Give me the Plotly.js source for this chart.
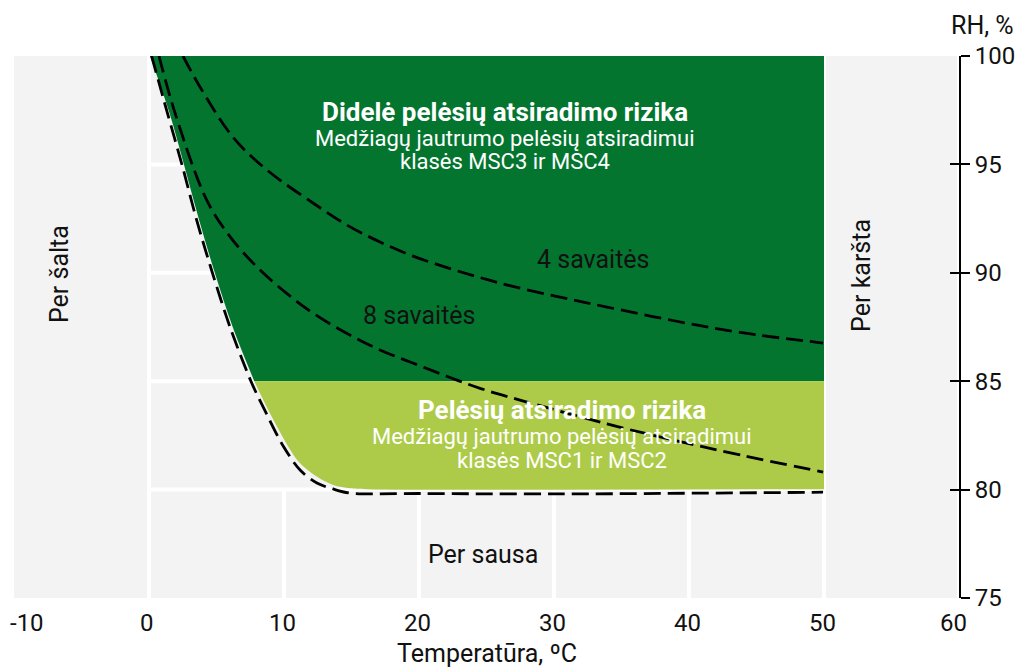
<!DOCTYPE html>
<html>
<head>
<meta charset="utf-8">
<script src="https://cdn.plot.ly/plotly-3.0.1.min.js"></script>
<style>
  html, body { margin: 0; padding: 0; background: #ffffff; }
  #chart { width: 1022px; height: 668px; }
</style>
</head>
<body>
<div id="chart"></div>
<script>
// ---- Data ----
const xTickVals = [-10, 0, 10, 20, 30, 40, 50, 60];
const xTickText = ['-10', '0', '10', '20', '30', '40', '50', '60'];
const yTickVals = [75, 80, 85, 90, 95, 100];

// background tile separators (white lines)
const gridT = [0, 10, 20, 30, 40, 50];
const gridRH = [80, 85, 90, 95];

// zone limits
const zoneRH = [80, 85, 100];   // risk lower, high-risk lower, top
const zoneTmax = 50;

// limit curve (lowest isopleth, dashed)
const limitT  = [0.19, 1.35, 2.45, 3.5, 4.7, 6.0, 7.55, 8.7, 9.95, 11.19, 12.44, 13.63, 14.89, 20.0, 30.44, 49.93];
const limitRH = [100, 97.4, 94.97, 92.5, 89.99, 87.5, 85.0, 83.5, 82.0, 80.9, 80.3, 80.03, 79.84, 79.82, 79.8, 79.88];

// 8 weeks isopleth
const week8T  = [0.74, 1.93, 4.27, 6.0, 7.98, 10.2, 12.17, 14.64, 17.11, 19.58, 22.05, 24.52, 27.48, 33.93, 38.81, 43.78, 49.93];
const week8RH = [100, 97.37, 93.36, 91.67, 90.28, 89.05, 88.13, 87.21, 86.44, 85.83, 85.23, 84.67, 84.13, 83.03, 82.29, 81.6, 80.81];

// 4 weeks isopleth
const week4T  = [2.52, 3.78, 6.22, 8.74, 12.15, 14.67, 17.11, 19.56, 22.07, 24.52, 26.96, 30.44, 33.93, 38.81, 43.78, 49.93];
const week4RH = [100, 98.57, 96.26, 94.74, 93.22, 92.2, 91.42, 90.77, 90.24, 89.78, 89.37, 88.88, 88.42, 87.8, 87.25, 86.76];

// edge of the high-risk (dark green) zone
const highEdgeT  = [0.07, 1.5, 2.6, 3.68, 4.88, 6.2, 7.8];
const highEdgeRH = [100, 97.4, 94.97, 92.5, 89.99, 87.5, 85.0];

// edge of the risk (light green) zone
const riskEdgeT  = [7.8, 8.96, 10.32, 11.19, 12.42, 13.65, 14.89, 16.13, 50];
const riskEdgeRH = [85, 83.52, 81.98, 81.21, 80.6, 80.21, 80.06, 80.02, 80.02];

// ---- Build traces ----
const xRange = [xTickVals[0], xTickVals[xTickVals.length - 1]];
const yRange = [yTickVals[0], yTickVals[yTickVals.length - 1]];

const gx = [], gy = [];
gridT.forEach((t, i) => {
  const full = (i === 0 || i === gridT.length - 1);
  gx.push(t, t, null);
  gy.push(yRange[0], full ? yRange[1] : gridRH[0], null);
});
gridRH.forEach(r => {
  gx.push(gridT[0], gridT[gridT.length - 1], null);
  gy.push(r, r, null);
});
gx.push(xRange[1], xRange[1], null);
gy.push(yRange[0], yRange[1], null);

const DARK = '#04752f';
const LIGHT = '#adcb48';

const dashStyle = {color: '#000000', width: 2.8, dash: '17px,7px', shape: 'spline', smoothing: 1};

const traces = [
  {x: gx, y: gy, mode: 'lines', line: {color: '#ffffff', width: 4}, hoverinfo: 'skip'},
  // dark zone
  {x: [zoneTmax, zoneTmax], y: [zoneRH[2], zoneRH[1]], mode: 'lines', line: {width: 0}, hoverinfo: 'skip'},
  {x: highEdgeT, y: highEdgeRH, mode: 'lines', fill: 'tonextx', fillcolor: DARK,
   line: {width: 0, shape: 'spline', smoothing: 1}, hoverinfo: 'skip'},
  // light zone
  {x: [riskEdgeT[0], zoneTmax], y: [zoneRH[1], zoneRH[1]], mode: 'lines', line: {width: 0}, hoverinfo: 'skip'},
  {x: riskEdgeT, y: riskEdgeRH, mode: 'lines', fill: 'tonexty', fillcolor: LIGHT,
   line: {width: 0, shape: 'spline', smoothing: 0.9}, hoverinfo: 'skip'},
  // dashed isopleths
  {x: limitT, y: limitRH, mode: 'lines', line: Object.assign({}, dashStyle, {smoothing: 0.9}), hoverinfo: 'skip'},
  {x: week8T, y: week8RH, mode: 'lines', line: dashStyle, hoverinfo: 'skip'},
  {x: week4T, y: week4RH, mode: 'lines', line: dashStyle, hoverinfo: 'skip'},
  // helper for the overlaid tick axis
  {x: [null], y: [null], yaxis: 'y2', mode: 'lines', hoverinfo: 'skip'}
];

const FONT = 'Roboto, "Noto Sans", sans-serif';
const TXT = '#111111';

const annotations = [];
xTickVals.forEach((v, i) => {
  annotations.push({
    x: v, y: 0, xref: 'x', yref: 'paper', text: xTickText[i], showarrow: false,
    xanchor: i === 0 ? 'left' : 'center', xshift: i === 0 ? -6 : (i === xTickVals.length - 1 ? -6 : -2),
    yanchor: 'middle', yshift: -25,
    font: {family: FONT, size: 24, color: TXT}
  });
});
annotations.push({x: 0.5, y: 0, xref: 'paper', yref: 'paper', text: 'Temperatūra, ºC', showarrow: false,
  xanchor: 'center', yanchor: 'middle', yshift: -55, font: {family: FONT, size: 25, color: TXT}});
annotations.push({x: 1, y: 1, xref: 'paper', yref: 'paper', text: 'RH, %', showarrow: false,
  xanchor: 'center', yanchor: 'middle', xshift: 23, yshift: 31, font: {family: FONT, size: 25, color: TXT}});

function label(x, y, text, size, color, extra) {
  annotations.push(Object.assign({x: x, y: y, xref: 'x', yref: 'y', text: text, showarrow: false,
    xanchor: 'center', yanchor: 'middle', font: {family: FONT, size: size, color: color}}, extra || {}));
}
label(26.37, 97.44, '<b>Didelė pelėsių atsiradimo rizika</b>', 26, '#ffffff');
label(26.37, 96.2, 'Medžiagų jautrumo pelėsių atsiradimui', 22, '#ffffff');
label(26.37, 95.12, 'klasės MSC3 ir MSC4', 22, '#ffffff');
label(30.59, 83.67, '<b>Pelėsių atsiradimo rizika</b>', 26, '#ffffff');
label(30.59, 82.43, 'Medžiagų jautrumo pelėsių atsiradimui', 22, '#ffffff');
label(30.59, 81.35, 'klasės MSC1 ir MSC2', 22, '#ffffff');
label(32.95, 90.61, '4 savaitės', 25, TXT);
label(20.07, 88.04, '8 savaitės', 25, TXT);
label(24.75, 77.02, 'Per sausa', 25, TXT);
label(-6.67, 89.94, 'Per šalta', 25, TXT, {textangle: -90});
label(52.81, 89.9, 'Per karšta', 25, TXT, {textangle: -90});

const layout = {
  width: 1022, height: 668,
  margin: {l: 14, r: 63, t: 56, b: 70},
  paper_bgcolor: '#ffffff',
  plot_bgcolor: '#f3f3f3',
  showlegend: false,
  hovermode: false,
  font: {family: FONT, color: TXT},
  xaxis: {range: xRange, showgrid: false, zeroline: false, showline: false,
          showticklabels: false, ticks: '', fixedrange: true},
  yaxis: {range: yRange, side: 'right', tickvals: yTickVals, showgrid: false, zeroline: false,
          showline: true, linecolor: '#000000', linewidth: 2,
          ticks: 'outside', ticklen: 9, tickwidth: 2, tickcolor: '#000000',
          tickfont: {family: FONT, size: 24, color: TXT}, fixedrange: true},
  yaxis2: {range: yRange, overlaying: 'y', side: 'right', tickvals: yTickVals, showgrid: false,
           zeroline: false, showline: false, showticklabels: false,
           ticks: 'inside', ticklen: 9, tickwidth: 2, tickcolor: '#000000', fixedrange: true},
  annotations: annotations
};

Plotly.newPlot('chart', traces, layout, {staticPlot: true, displayModeBar: false});
</script>
</body>
</html>
